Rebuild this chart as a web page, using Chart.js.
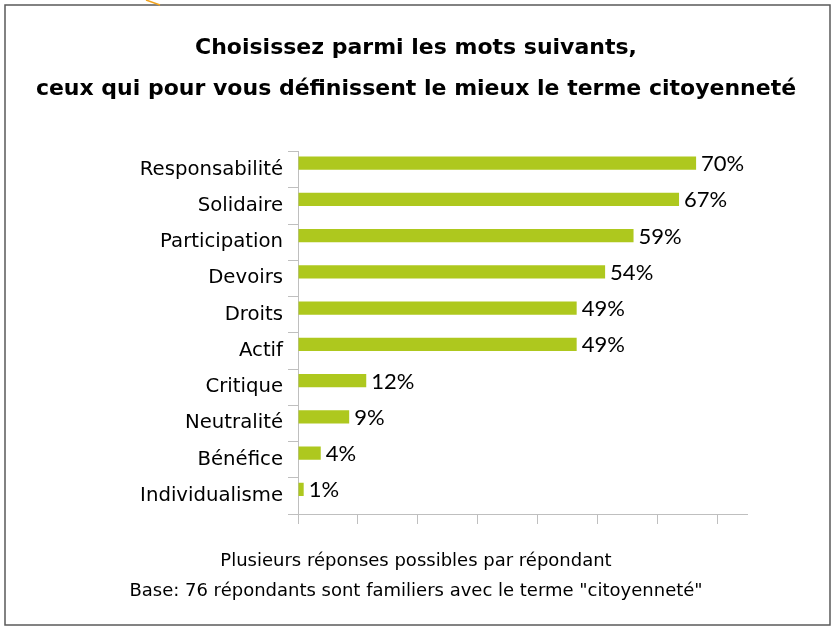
<!DOCTYPE html>
<html>
<head>
<meta charset="utf-8">
<script src="https://cdn.jsdelivr.net/npm/chart.js@4"></script>
<style>
  html, body { margin: 0; padding: 0; background: #ffffff; }
  canvas { display: block; }
</style>
</head>
<body>
<canvas id="chart" width="832" height="627"></canvas>
<script>
// ---- data ----
const categories = ['Responsabilité', 'Solidaire', 'Participation', 'Devoirs', 'Droits', 'Actif', 'Critique', 'Neutralité', 'Bénéfice', 'Individualisme'];
const percentValues = [70, 67, 59, 54, 49, 49, 12, 9, 4, 1];
const spacerValues = [0, 0, 0, 0, 0, 0, 0, 0, 0, 0];
const titleLines = ['Choisissez parmi les mots suivants,', 'ceux qui pour vous définissent le mieux le terme citoyenneté'];
const noteLines = ['Plusieurs réponses possibles par répondant', 'Base: 76 répondants sont familiers avec le terme "citoyenneté"'];
// axis in percent of 76 respondents: max = 60 respondents, ticks every 8 respondents
const xAxisMax = 78.95;
const xTickValues = [0, 10.53, 21.05, 31.58, 42.11, 52.63, 63.16, 73.68];

const mainFont = "'Comic Sans MS', 'DejaVu Sans', sans-serif";
const labelFont = "Lato, 'Open Sans', sans-serif";

const framePlugin = {
  id: 'frame',
  beforeDraw(chart) {
    const ctx = chart.ctx;
    ctx.save();
    ctx.fillStyle = '#ffffff';
    ctx.fillRect(0, 0, chart.width, chart.height);
    ctx.strokeStyle = '#5a5a5a';
    ctx.lineWidth = 1.5;
    ctx.strokeRect(5, 5, 825, 620);
    ctx.strokeStyle = '#f2a41e';
    ctx.lineWidth = 1.5;
    ctx.beginPath();
    ctx.moveTo(146, 0);
    ctx.lineTo(160, 5);
    ctx.stroke();
    ctx.restore();
  }
};

const barLabelPlugin = {
  id: 'barLabels',
  afterDatasetsDraw(chart) {
    const ctx = chart.ctx;
    const meta = chart.getDatasetMeta(0);
    const values = chart.data.datasets[0].data;
    ctx.save();
    ctx.font = '22px ' + labelFont;
    ctx.fillStyle = '#000000';
    ctx.textAlign = 'left';
    ctx.textBaseline = 'middle';
    meta.data.forEach((bar, i) => {
      ctx.fillText(values[i] + '%', bar.x + 5, bar.y + 1);
    });
    ctx.restore();
  }
};

new Chart(document.getElementById('chart'), {
  type: 'bar',
  data: {
    labels: categories,
    datasets: [
      { data: percentValues, backgroundColor: '#aec81e', borderWidth: 0 },
      { data: spacerValues, backgroundColor: 'rgba(0,0,0,0)', borderWidth: 0 }
    ]
  },
  options: {
    indexAxis: 'y',
    responsive: false,
    devicePixelRatio: 1,
    animation: false,
    categoryPercentage: 0.72,
    barPercentage: 1.0,
    layout: { padding: { top: 5, left: 5, right: 5, bottom: 5 } },
    plugins: {
      legend: { display: false },
      tooltip: { enabled: false },
      title: {
        display: true,
        text: titleLines,
        color: '#000000',
        font: { family: mainFont, size: 22, weight: 'bold', lineHeight: 41 / 22 },
        padding: { top: 23, bottom: 41.5 }
      },
      subtitle: {
        display: true,
        position: 'bottom',
        text: noteLines,
        color: '#000000',
        font: { family: mainFont, size: 18, weight: 'normal', lineHeight: 30 / 18 },
        padding: { top: 22, bottom: 16 }
      }
    },
    scales: {
      x: {
        min: 0,
        max: xAxisMax,
        grid: { drawOnChartArea: false, drawTicks: true, tickLength: 10, color: '#bfbfbf' },
        border: { display: true, color: '#bfbfbf', width: 1 },
        ticks: { display: false },
        afterBuildTicks(axis) { axis.ticks = xTickValues.map(v => ({ value: v })); }
      },
      y: {
        offset: true,
        grid: { offset: true, drawOnChartArea: false, drawTicks: true, tickLength: 10, color: '#bfbfbf' },
        border: { display: true, color: '#bfbfbf', width: 1 },
        ticks: { color: '#000000', padding: 5, font: { family: mainFont, size: 19.7 } },
        afterFit(axis) { axis.width = 293; }
      },
      yRight: {
        type: 'linear',
        position: 'right',
        display: true,
        grid: { display: false },
        border: { display: false },
        ticks: { display: false },
        afterFit(axis) { axis.width = 80; }
      }
    }
  },
  plugins: [framePlugin, barLabelPlugin]
});
</script>
</body>
</html>
